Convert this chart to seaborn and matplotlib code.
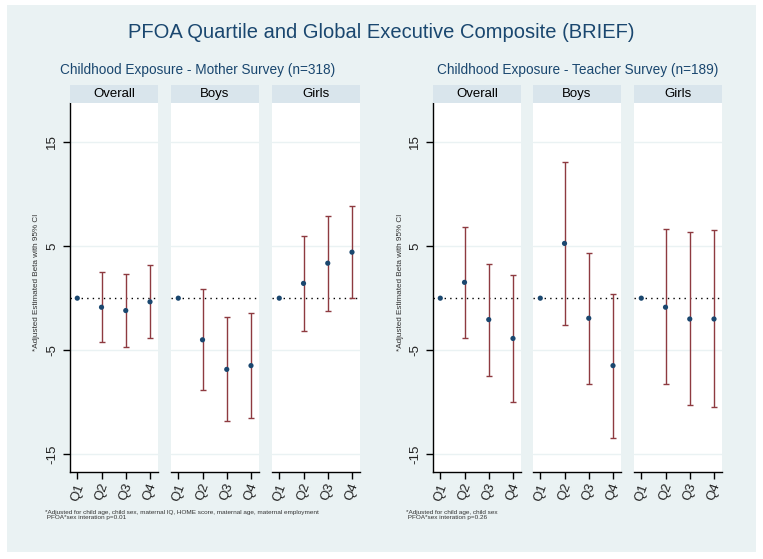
import numpy as np
import pandas as pd
import matplotlib
matplotlib.use('Agg')
import matplotlib.pyplot as plt
from matplotlib.patches import Rectangle
import seaborn as sns

# ---- data ----
quartiles = ['Q1', 'Q2', 'Q3', 'Q4']
panels = ['Overall', 'Boys', 'Girls']

# mother survey (n=318)
mother_overall_est = [0, -0.87, -1.19, -0.35]
mother_overall_lo = [0, -4.2, -4.68, -3.8]
mother_overall_hi = [0, 2.55, 2.36, 3.16]
mother_boys_est = [0, -4.0, -6.84, -6.48]
mother_boys_lo = [0, -8.84, -11.77, -11.55]
mother_boys_hi = [0, 0.87, -1.77, -1.38]
mother_girls_est = [0, 1.42, 3.36, 4.42]
mother_girls_lo = [0, -3.16, -1.26, 0.0]
mother_girls_hi = [0, 6.0, 7.9, 8.9]

# teacher survey (n=189)
teacher_overall_est = [0, 1.52, -2.06, -3.87]
teacher_overall_lo = [0, -3.87, -7.48, -9.93]
teacher_overall_hi = [0, 6.85, 3.3, 2.2]
teacher_boys_est = [0, 5.26, -1.93, -6.48]
teacher_boys_lo = [0, -2.55, -8.23, -13.45]
teacher_boys_hi = [0, 13.1, 4.33, 0.42]
teacher_girls_est = [0, -0.87, -2.0, -2.0]
teacher_girls_lo = [0, -8.29, -10.29, -10.48]
teacher_girls_hi = [0, 6.65, 6.36, 6.58]

rows = []
for survey, sets in [('mother', [(mother_overall_est, mother_overall_lo, mother_overall_hi),
                                 (mother_boys_est, mother_boys_lo, mother_boys_hi),
                                 (mother_girls_est, mother_girls_lo, mother_girls_hi)]),
                     ('teacher', [(teacher_overall_est, teacher_overall_lo, teacher_overall_hi),
                                  (teacher_boys_est, teacher_boys_lo, teacher_boys_hi),
                                  (teacher_girls_est, teacher_girls_lo, teacher_girls_hi)])]:
    for p, (est, lo, hi) in zip(panels, sets):
        for i, q in enumerate(quartiles):
            rows.append(dict(survey=survey, panel=p, q=i + 1, est=est[i], lo=lo[i], hi=hi[i]))
df = pd.DataFrame(rows)

sns.set_style('white')
plt.rcParams['font.family'] = ['Liberation Sans', 'DejaVu Sans']

W, H = 763, 559
fig = plt.figure(figsize=(W / 100, H / 100), dpi=100)
fig.patch.set_facecolor('white')

bg = '#eaf2f3'
strip_c = '#d9e5ec'
navy = '#1a476f'
maroon = '#8e3a40'

fig.patches.append(Rectangle((7 / W, 1 - 552 / H), (756 - 7) / W, (552 - 5) / H,
                             transform=fig.transFigure, facecolor=bg, edgecolor='none', zorder=-5))

fig.text(381 / W, 1 - 33 / H, 'PFOA Quartile and Global Executive Composite (BRIEF)',
         ha='center', va='center', fontsize=14.5, color=navy)

groups = [
    ('mother', 'Childhood Exposure - Mother Survey (n=318)', [70, 171, 272], 88, 198, 37,
     '*Adjusted for child age, child sex, maternal IQ, HOME score, maternal age, maternal employment\n PFOA*sex interation p=0.01', 45),
    ('teacher', 'Childhood Exposure - Teacher Survey (n=189)', [433, 533, 634], 88, 578, 400,
     '*Adjusted for child age, child sex\n PFOA*sex interation p=0.26', 406),
]

top, bot = 103, 472
for survey, sub, lefts, pw, subx, ylabx, note, notex in groups:
    fig.text(subx / W, 1 - 70 / H, sub, ha='center', va='center', fontsize=9.8, color=navy)
    for k, (p, x0) in enumerate(zip(panels, lefts)):
        ax = fig.add_axes([x0 / W, 1 - bot / H, pw / W, (bot - top) / H])
        ax.set_facecolor('white')
        d = df[(df.survey == survey) & (df.panel == p)]
        for y in [15, 5, -5, -15]:
            ax.axhline(y, color=bg, lw=1, zorder=0)
        ax.axhline(0, color='black', lw=1, ls=(0, (1, 3)), zorder=1)
        e = d[d.q > 1]
        ax.errorbar(e.q, e.est, yerr=[e.est - e.lo, e.hi - e.est], fmt='none',
                    ecolor=maroon, elinewidth=1, capsize=2.5, capthick=1, zorder=2)
        sns.scatterplot(data=d, x='q', y='est', ax=ax, color=navy, s=14,
                        edgecolor='none', zorder=3, legend=False)
        ax.set_xlim(0.7, 4.33)
        ax.set_ylim(-16.7, 18.75)
        ax.set_xticks([1, 2, 3, 4])
        ax.set_xticklabels(quartiles, rotation=70, fontsize=9.5, color='#222222')
        ax.set_xlabel('')
        ax.set_ylabel('')
        for s in ['top', 'right']:
            ax.spines[s].set_visible(False)
        ax.spines['bottom'].set_color('black')
        ax.spines['bottom'].set_linewidth(1)
        ax.tick_params(axis='x', length=5, width=1, color='black', direction='out',
                       bottom=True, pad=2)
        if k == 0:
            ax.spines['left'].set_color('black')
            ax.spines['left'].set_linewidth(1)
            ax.set_yticks([15, 5, -5, -15])
            ax.set_yticklabels(['15', '5', '-5', '-15'], rotation=90, va='center',
                               fontsize=9.5, color='#222222')
            ax.tick_params(axis='y', length=5, width=1, color='black', direction='out', left=True)
        else:
            ax.spines['left'].set_visible(False)
            ax.set_yticks([])
        # strip
        fig.patches.append(Rectangle((x0 / W, 1 - top / H), pw / W, 18 / H,
                                     transform=fig.transFigure, facecolor=strip_c,
                                     edgecolor='none', zorder=1))
        fig.text((x0 + pw / 2) / W, 1 - 94 / H, p, ha='center', va='center',
                 fontsize=9.5, color='black')
    fig.text(ylabx / W, 1 - ((top + bot) / 2 - 5) / H, '*Adjusted Estimated Beta with 95% CI',
             rotation=90, ha='center', va='center', fontsize=5.9, color='#333333')
    fig.text(notex / W, 1 - 515 / H, note, ha='left', va='center', fontsize=4.6,
             color='#333333', linespacing=1.0)

fig.savefig('out.png', dpi=100, facecolor=fig.get_facecolor())
